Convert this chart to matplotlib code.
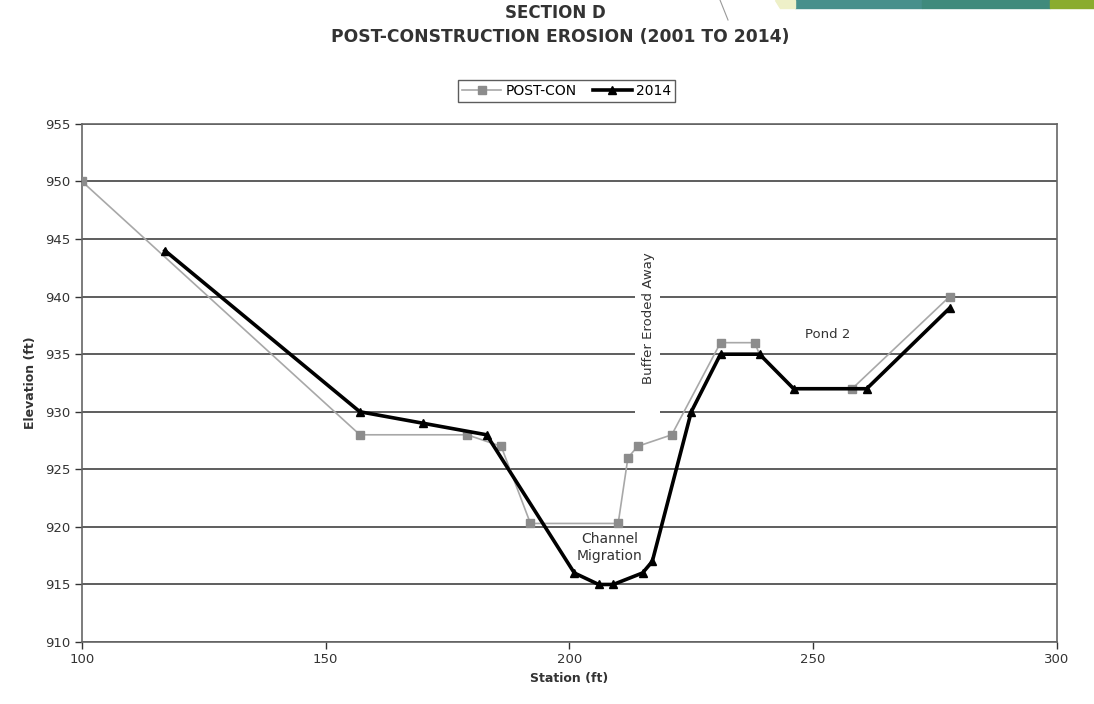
"""
Section D cross-section chart: post-construction erosion 2001 to 2014
"""

import matplotlib
matplotlib.use('Agg')  # Non-interactive backend
import matplotlib.pyplot as plt
from matplotlib.patches import Rectangle, Polygon

# Data
post_con_station = [100, 157, 179, 186, 192, 210, 212, 214, 221, 231, 238, 239, 246, 258, 278]
post_con_elev = [950, 928, 928, 927, 920.3, 920.3, 926, 927, 928, 936, 936, 935, 932, 932, 940]
# the two surveys share these points, the 2014 marker hides them
post_con_hidden = [11, 12]

survey_2014_station = [117, 157, 170, 183, 201, 206, 209, 215, 217, 225, 231, 239, 246, 261, 278]
survey_2014_elev = [944, 930, 929, 928, 916, 915, 915, 916, 917, 930, 935, 935, 932, 932, 939]

x_ticks = [100, 150, 200, 250, 300]
y_ticks = [910, 915, 920, 925, 930, 935, 940, 945, 950, 955]

plt.rcParams['font.family'] = ['DejaVu Sans']

fig = plt.figure(figsize=(10.94, 7.04), dpi=100)
ax = fig.add_axes([0.075, 0.088, 0.891, 0.736])

# Gridlines
for y in y_ticks:
    ax.axhline(y, color='#505050', linewidth=1.3, zorder=1)

shown = [i for i in range(len(post_con_station)) if i not in post_con_hidden]
ax.plot(post_con_station, post_con_elev, color='#a8a8a8', linewidth=1.2,
        marker='s', markersize=6, markerfacecolor='#8c8c8c',
        markeredgecolor='#8c8c8c', markevery=shown, label='POST-CON', zorder=3)
ax.plot(survey_2014_station, survey_2014_elev, color='black', linewidth=2.6,
        marker='^', markersize=6, markerfacecolor='black',
        markeredgecolor='black', label='2014', zorder=4)

# Annotations (white box behind the vertical label cuts the gridlines)
ax.add_patch(Rectangle((213.4, 929.2), 5.1, 14.5, facecolor='white',
                       edgecolor='none', zorder=2))
ax.text(216.2, 938.1, 'Buffer Eroded Away', rotation=90, ha='center', va='center',
        fontsize=9.5, color='#333333', zorder=2.5)
ax.text(208.2, 918.2, 'Channel\nMigration', ha='center', va='center',
        fontsize=10, color='#333333', linespacing=1.25, zorder=5)
ax.text(252.9, 936.7, 'Pond 2', ha='center', va='center',
        fontsize=9.5, color='#333333', zorder=5)

ax.set_xlim(100, 300)
ax.set_ylim(910, 955)
ax.set_xticks(x_ticks)
ax.set_yticks(y_ticks)
ax.tick_params(axis='both', labelsize=9.5, colors='#333333', length=5,
               width=1, direction='out')
ax.tick_params(axis='x', pad=3)

for side in ['left', 'bottom', 'right', 'top']:
    ax.spines[side].set_color('#666666')
    ax.spines[side].set_linewidth(1.2)

ax.set_xlabel('Station (ft)', fontsize=9, fontweight='bold', color='#333333', labelpad=4)
ax.set_ylabel('Elevation (ft)', fontsize=9, fontweight='bold', color='#333333', labelpad=6)

# Title
fig.text(0.508, 0.981, 'SECTION D', ha='center', va='center',
         fontsize=12, fontweight='bold', color='#333333')
fig.text(0.512, 0.947, 'POST-CONSTRUCTION EROSION (2001 TO 2014)', ha='center', va='center',
         fontsize=12.3, fontweight='bold', color='#333333')

leg = fig.legend(loc='center', bbox_to_anchor=(0.518, 0.871), ncol=2, fontsize=10,
                 frameon=True, fancybox=False, edgecolor='#333333',
                 handlelength=2.8, columnspacing=1.2, handletextpad=0.3,
                 borderpad=0.3)
leg.get_frame().set_linewidth(1.0)

# Slide decoration in the top-right corner
deco = [(795 / 1094, 922 / 1094, '#47908c'), (922 / 1094, 1050 / 1094, '#3f8a7c'),
        (1050 / 1094, 1.0, '#8aac2e')]
for x0, x1, c in deco:
    fig.patches.append(Rectangle((x0, 1 - 8 / 704), x1 - x0, 8 / 704,
                                 transform=fig.transFigure, color=c, zorder=0))
fig.patches.append(Polygon([(775 / 1094, 1.0), (795 / 1094, 1.0), (795 / 1094, 1 - 8 / 704),
                            (780 / 1094, 1 - 8 / 704)], closed=True,
                           transform=fig.transFigure, color='#eef0c8', zorder=0))
fig.lines.append(plt.Line2D([720 / 1094, 728 / 1094], [1.0, 1 - 20 / 704],
                            transform=fig.transFigure, color='#999999', linewidth=0.8))

fig.savefig('out.png', dpi=100)
plt.close(fig)
